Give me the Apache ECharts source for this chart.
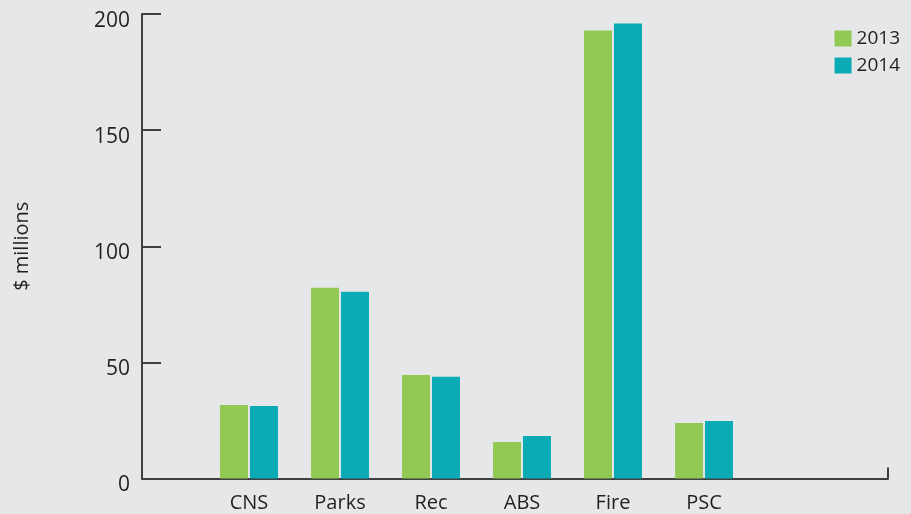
<!DOCTYPE html>
<html>
<head>
<meta charset="utf-8">
<script src="https://cdn.jsdelivr.net/npm/echarts@6/dist/echarts.min.js"></script>
<style>
  html, body { margin: 0; padding: 0; background: #e6e7e9; }
  #chart { width: 911px; height: 514px; }
</style>
</head>
<body>
<div id="chart"></div>
<script>
// Departments (first and last slots are empty spacers on the axis)
const categories = ['', 'CNS', 'Parks', 'Rec', 'ABS', 'Fire', 'PSC', ''];
// Spending, $ millions
const values2013 = [null, 31.7, 82.1, 44.6, 15.7, 192.9, 23.9, 0];
const values2014 = [null, 31.2, 80.4, 43.8, 18.3, 195.9, 24.8, 0];
const yTicks = { min: 0, max: 200, interval: 50 };

const FONT = '"Open Sans", "Noto Sans", sans-serif';
const TEXT = '#231f20';
const AXIS = '#3f3f41';

const chart = echarts.init(document.getElementById('chart'), null, { renderer: 'canvas' });

chart.setOption({
  backgroundColor: '#e6e7e9',
  animation: false,
  textStyle: { fontFamily: FONT, color: TEXT },
  legend: {
    right: 6,
    top: 24,
    orient: 'vertical',
    icon: 'rect',
    itemWidth: 17,
    itemHeight: 16,
    itemGap: 8,
    textStyle: { fontFamily: FONT, fontSize: 19, color: TEXT },
    data: ['2013', '2014']
  },
  grid: [
    // frame: y axis and baseline
    { left: 142, right: 23, top: 14, bottom: 35.5 },
    // bars: one band per department
    { left: 112.5, width: 728, top: 14, bottom: 35.5 }
  ],
  xAxis: [
    {
      gridIndex: 0, type: 'value', min: 0, max: 1, interval: 1,
      axisLine: { show: true, lineStyle: { color: AXIS, width: 2 } },
      axisTick: { show: true, inside: true, length: 11, lineStyle: { color: AXIS, width: 2 } },
      axisLabel: { show: false },
      splitLine: { show: false }
    },
    {
      gridIndex: 1, type: 'category', data: categories,
      axisLine: { show: false },
      axisTick: { show: false },
      axisLabel: { fontFamily: FONT, fontSize: 20, color: TEXT, margin: 15, interval: 0 }
    }
  ],
  yAxis: [
    {
      gridIndex: 0, type: 'value', min: yTicks.min, max: yTicks.max, interval: yTicks.interval,
      name: '$ millions',
      nameLocation: 'middle',
      nameGap: 110,
      nameRotate: 90,
      nameTextStyle: { fontFamily: FONT, fontSize: 20, color: TEXT },
      axisLine: { show: true, lineStyle: { color: AXIS, width: 2 } },
      axisTick: { show: true, inside: true, length: 19, lineStyle: { color: AXIS, width: 2 } },
      // labels sit a little below their ticks
      axisLabel: {
        fontFamily: FONT, fontSize: 21, color: TEXT, margin: 12,
        verticalAlign: 'top', lineHeight: 14
      },
      splitLine: { show: false }
    },
    {
      gridIndex: 1, type: 'value', min: yTicks.min, max: yTicks.max,
      show: false, splitLine: { show: false }
    }
  ],
  series: [
    {
      name: '2013', type: 'bar', xAxisIndex: 1, yAxisIndex: 1,
      data: values2013, barWidth: 28, barGap: '7%',
      itemStyle: { color: '#92c954' }
    },
    {
      name: '2014', type: 'bar', xAxisIndex: 1, yAxisIndex: 1,
      data: values2014, barWidth: 28, barGap: '7%',
      itemStyle: { color: '#0babb6' }
    }
  ]
});
</script>
</body>
</html>
